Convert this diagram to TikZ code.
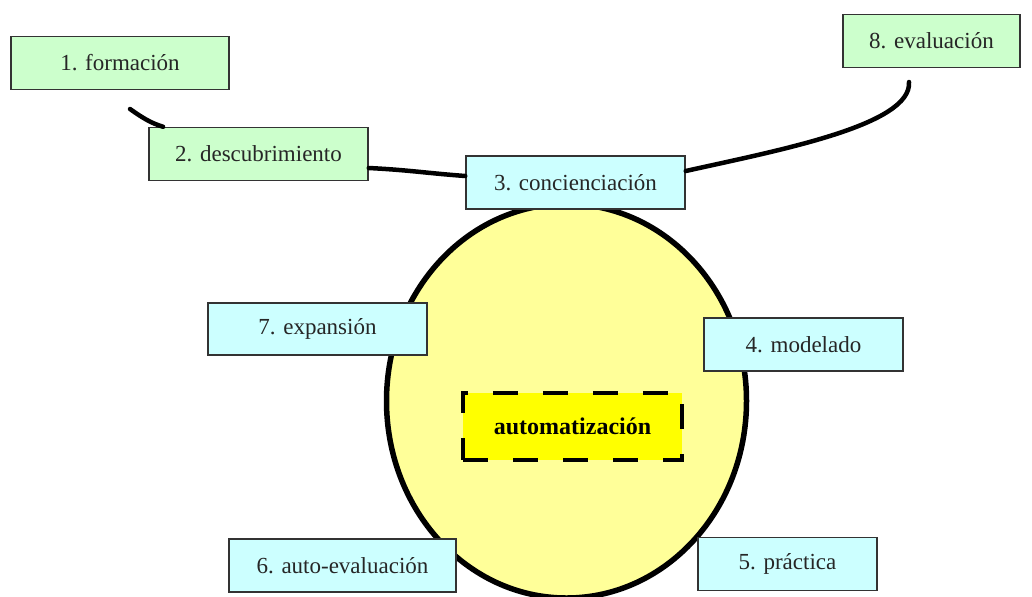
\documentclass[tikz,border=0pt]{standalone}
\usepackage{fontspec}
\setmainfont{Liberation Serif}
\usetikzlibrary{shapes.geometric}
\definecolor{stepgreen}{HTML}{CCFFCC}
\definecolor{stepblue}{HTML}{CCFFFF}
\definecolor{corefill}{HTML}{FFFF99}
\definecolor{autofill}{HTML}{FFFF00}

\begin{document}
\begin{tikzpicture}[x=0.5pt,y=-0.5pt,line cap=round]
            \tikzset{phase/.style={draw=black!80, line width=0.75pt, minimum height=26.5pt, inner sep=0pt, text=black!85, font=\fontsize{11.5}{13}\selectfont},
                     link/.style={line width=2.25pt}}
            \useasboundingbox (0,0) rectangle (1032,596);
            \node[ellipse, draw, fill=corefill, line width=2.75pt, minimum width=180pt, minimum height=197pt] (core) at (566.5,401) {};
            \node[phase, fill=stepgreen, minimum width=109pt] (form) at (120,63) {1. formación};
            \node[phase, fill=stepgreen, minimum width=109.5pt] (desc) at (258.5,154) {2. descubrimiento};
            \node[phase, fill=stepblue, minimum width=109.5pt] (conc) at (575.5,182.5) {3. concienciación};
            \node[phase, fill=stepblue, minimum width=99.5pt] (mode) at (803.5,344.5) {4. modelado};
            \node[phase, fill=stepblue, minimum width=89.5pt] (prac) at (787.5,564) {5. práctica};
            \node[phase, fill=stepblue, minimum width=113.5pt] (autoev) at (342.5,565.5) {6. auto-evaluación};
            \node[phase, fill=stepblue, minimum width=109.5pt, minimum height=26pt] (expa) at (317.5,329) {7. expansión};
            \node[phase, fill=stepgreen, minimum width=88.5pt] (eval) at (931.5,41) {8. evaluación};
            \node[draw, fill=autofill, line width=2.25pt, dash pattern=on 12.5pt off 12.5pt, line cap=butt, minimum width=109.5pt, minimum height=33.5pt, font=\fontsize{12}{14}\selectfont\bfseries] (autom) at (572.5,426.5) {automatización};
            \coordinate (tailL) at (130,109);
            \coordinate (tailR) at (909,82);
            \draw[link] (tailL) .. controls (140,116) and (150,123) .. (desc);
            \draw[link] ([yshift=-7pt]desc.east) .. controls +(40,2) and +(-40,-3) .. ([yshift=3.25pt]conc.west);
            \draw[link] ([yshift=5.75pt]conc.east) .. controls (780,150) and (912,125) .. (tailR);
        \end{tikzpicture}
\end{document}
